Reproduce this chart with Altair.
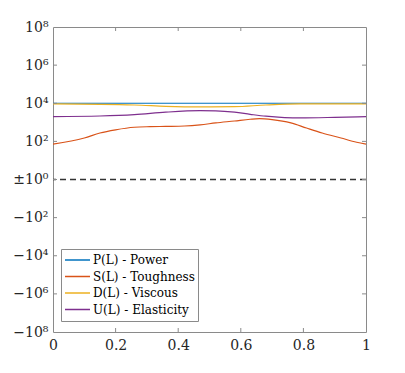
import altair as alt
import pandas as pd

# ---- data (raw values) ----
series_names = ["P(L) - Power", "S(L) - Toughness", "D(L) - Viscous", "U(L) - Elasticity"]
series_colors = ["#0072BD", "#D95319", "#EDB120", "#7E2F8E"]

P_x = [0.0, 0.5, 1.0]
P_y = [10000, 10000, 10000]

S_x = [0.0, 0.10, 0.15, 0.20, 0.26, 0.31, 0.36, 0.42, 0.47, 0.52, 0.58, 0.63, 0.66, 0.70, 0.76, 0.81, 0.86, 0.92, 0.97, 1.0]
S_y = [72, 150, 275, 405, 550, 590, 610, 640, 735, 930, 1175, 1445, 1550, 1380, 930, 500, 275, 150, 90, 72]

D_x = [0.0, 0.26, 0.36, 0.47, 0.58, 0.68, 0.79, 1.0]
D_y = [9200, 8100, 6900, 6400, 6600, 8100, 9200, 9200]

U_x = [0.0, 0.15, 0.26, 0.36, 0.47, 0.52, 0.58, 0.63, 0.68, 0.74, 0.79, 0.90, 1.0]
U_y = [2000, 2140, 2510, 3390, 4070, 3980, 3390, 2630, 2090, 1780, 1700, 1820, 2000]

y_tick_values = [-8, -6, -4, -2, 0, 2, 4, 6, 8]
y_tick_labels = ["−10⁸", "−10⁶", "−10⁴", "−10²", "±10⁰", "10²", "10⁴", "10⁶", "10⁸"]
x_tick_values = [0, 0.2, 0.4, 0.6, 0.8, 1]

rows = []
for name, xs, ys in zip(series_names, [P_x, S_x, D_x, U_x], [P_y, S_y, D_y, U_y]):
    for xv, yv in zip(xs, ys):
        rows.append({"series": name, "x": xv, "value": yv})
df = pd.DataFrame(rows)

W, H = 313, 305
FONT = "DejaVu Serif"
AX = "#262626"
BOX = "#8a8a8a"

label_expr = "[" + ",".join("'%s'" % s for s in y_tick_labels) + "][(datum.value + 8) / 2]"

xscale = alt.Scale(domain=[0, 1], nice=False, zero=False)
yscale = alt.Scale(domain=[-8, 8], nice=False, zero=False)

xaxis = alt.Axis(values=x_tick_values, tickSize=0, domain=False, grid=False,
                 labelFont=FONT, labelFontSize=14, labelColor=AX,
                 labelPadding=6, title=None, labelFlush=False, labelOverlap=False,
                 labelExpr="datum.value == 0 ? '0' : datum.value == 1 ? '1' : format(datum.value, '.1f')")
yaxis = alt.Axis(values=y_tick_values, tickSize=0, domain=False, grid=False,
                 labelFont=FONT, labelFontSize=14, labelColor=AX,
                 labelPadding=5, title=None, labelFlush=False, labelOverlap=False,
                 labelExpr=label_expr)


def xenc(field):
    return alt.X(field, type="quantitative", scale=xscale, axis=xaxis)


def yenc(field):
    return alt.Y(field, type="quantitative", scale=yscale, axis=yaxis)


lines = alt.Chart(df).transform_calculate(
    ly="log(datum.value) / LN10"
).mark_line(interpolate="monotone", strokeWidth=1.2).encode(
    x=xenc("x"),
    y=yenc("ly"),
    color=alt.Color("series:N", sort=series_names,
                    scale=alt.Scale(domain=series_names, range=series_colors),
                    legend=alt.Legend(title=None, orient="none", legendX=8, legendY=222,
                                      symbolType="stroke", symbolSize=625, symbolStrokeWidth=1.3,
                                      clipHeight=16, rowPadding=0.5,
                                      labelFont=FONT, labelFontSize=12, labelColor="#000",
                                      strokeColor=BOX, fillColor="white", padding=3,
                                      labelOffset=2, symbolOffset=0,
                                      labelLimit=200)),
    strokeWidth=alt.condition(alt.datum.series == series_names[0], alt.value(2.2), alt.value(1.1)),
)

zero_df = pd.DataFrame({"ly": [0]})
zero_line = alt.Chart(zero_df).mark_rule(color="#333333", strokeDash=[6, 4], strokeWidth=1.3).encode(
    y=yenc("ly")
)

ytick_df = pd.DataFrame({"ly": y_tick_values[1:-1]})
xtick_df = pd.DataFrame({"x": x_tick_values[1:-1]})
tick_l = alt.Chart(ytick_df).mark_rule(color=BOX, strokeWidth=1).encode(
    y=yenc("ly"), x=alt.value(0), x2=alt.value(4))
tick_r = alt.Chart(ytick_df).mark_rule(color=BOX, strokeWidth=1).encode(
    y=yenc("ly"), x=alt.value(W - 4), x2=alt.value(W))
tick_b = alt.Chart(xtick_df).mark_rule(color=BOX, strokeWidth=1).encode(
    x=xenc("x"), y=alt.value(H - 4), y2=alt.value(H))
tick_t = alt.Chart(xtick_df).mark_rule(color=BOX, strokeWidth=1).encode(
    x=xenc("x"), y=alt.value(0), y2=alt.value(4))

chart = alt.layer(lines, zero_line, tick_l, tick_r, tick_b, tick_t).properties(
    width=W, height=H,
    autosize=alt.AutoSizeParams(type="none"),
    padding={"left": 45, "top": 19, "right": 30, "bottom": 40},
    background="white",
).configure_view(stroke=BOX, strokeWidth=1)

chart.save("out.html", embed_options={"renderer": "svg", "actions": False})
